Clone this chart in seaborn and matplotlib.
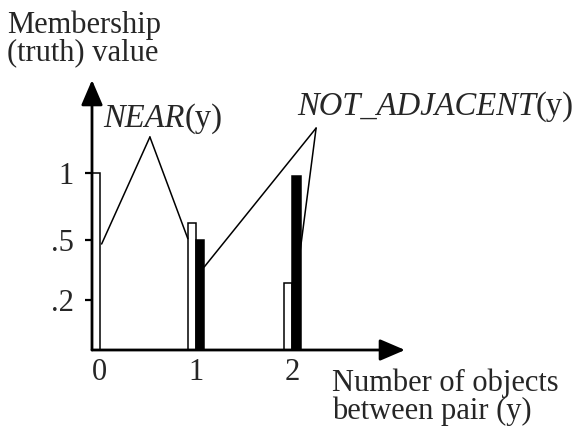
import numpy as np
import pandas as pd
import matplotlib
matplotlib.use("Agg")
import matplotlib.pyplot as plt
import seaborn as sns

# Membership values of the two fuzzy relations for each count of objects in between
objects_between = [0, 1, 2]
near_values = [1.0, 0.63, 0.285]
not_adjacent_values = [0.0, 0.5, 0.98]
ytick_values = [0.2, 0.5, 1.0]
ytick_labels = [".2", ".5", "1"]
xtick_labels = ["0", "1", "2"]

df = pd.DataFrame({
    "objects": objects_between * 2,
    "relation": ["NEAR"] * 3 + ["NOT_ADJACENT"] * 3,
    "membership": near_values + not_adjacent_values,
})

sns.set_theme(style="white")
plt.rcParams["font.family"] = ["Liberation Serif", "DejaVu Serif"]

fig = plt.figure(figsize=(5.78, 4.37), dpi=100)
W, H = 578, 437
ax = fig.add_axes([92 / W, 87 / H, 313 / W, 270 / H])

sns.barplot(data=df, x="objects", y="membership", hue="relation",
            palette={"NEAR": "white", "NOT_ADJACENT": "black"},
            edgecolor="black", linewidth=1.1, width=0.17, dodge=True,
            legend=False, ax=ax)

# schematic (non-linear) membership axis
knots = [0.0, 0.2, 0.5, 1.0, 2.0]
pix = [0.0, 50.0, 110.0, 177.0, 311.0]
fwd = lambda v: np.interp(v, knots, pix)
inv = lambda p: np.interp(p, pix, knots)
ax.set_yscale("function", functions=(fwd, inv))
ax.set_ylim(0, inv(270.0))
ax.set_xlim(-0.08, 3.17)

for s in ax.spines.values():
    s.set_visible(False)

ax.set_yticks(ytick_values)
ax.set_yticklabels(ytick_labels, fontsize=22)
ax.set_xticks(range(len(xtick_labels)))
ax.set_xticklabels(xtick_labels, fontsize=22)
ax.tick_params(axis="y", direction="out", length=5, width=1.6, pad=8, left=True, color="black")
ax.tick_params(axis="x", length=0, pad=6)
ax.set_xlabel("")
ax.set_ylabel("")
ax.grid(False)

# axis arrows
arrow = dict(arrowstyle="-|>,head_length=0.7,head_width=0.3", lw=2, color="black",
             shrinkA=0, shrinkB=0, mutation_scale=22)
ax.annotate("", xy=(0, 1), xytext=(0, 0), xycoords="axes fraction",
            textcoords="axes fraction", arrowprops=arrow, annotation_clip=False)
ax.annotate("", xy=(1, 0), xytext=(0, 0), xycoords="axes fraction",
            textcoords="axes fraction", arrowprops=arrow, annotation_clip=False)

# axis titles (anchored on the baseline of their last line)
fig.text(7 / W, 1 - 60 / H, "Membership\n(truth) value", fontsize=22,
         ha="left", va="baseline", linespacing=0.93)
fig.text(332 / W, 1 - 419 / H, "Number of objects\nbetween pair (y)", fontsize=22,
         ha="left", va="baseline", linespacing=0.93)

# relation labels: italic name followed by upright argument
near_t = fig.text(103 / W, 1 - 127 / H, "NEAR", fontsize=23.5, style="italic",
                  ha="left", va="baseline")
ax.annotate("(y)", xy=(1, 0), xycoords=near_t, ha="left", va="bottom", fontsize=23.5)
nadj_t = fig.text(297 / W, 1 - 115 / H, "NOT_ADJACENT", fontsize=23.5, style="italic",
                  ha="left", va="baseline")
ax.annotate("(y)", xy=(1, 0), xycoords=nadj_t, ha="left", va="bottom", fontsize=23.5)

# leader lines from the labels down to the bars
lead = dict(arrowstyle="-", lw=1.1, color="black", shrinkA=0, shrinkB=0)
near_apex = (0.185, 0.789)
for pt in [(0.02, 0.48), (0.915, 0.51)]:
    ax.annotate("", xy=pt, xycoords="data", xytext=near_apex,
                textcoords="axes fraction", arrowprops=lead, annotation_clip=False)
nadj_apex = (0.716, 0.822)
for pt in [(1.085, 0.365), (2.08, 0.44)]:
    ax.annotate("", xy=pt, xycoords="data", xytext=nadj_apex,
                textcoords="axes fraction", arrowprops=lead, annotation_clip=False)

fig.savefig("out.png", dpi=100)
